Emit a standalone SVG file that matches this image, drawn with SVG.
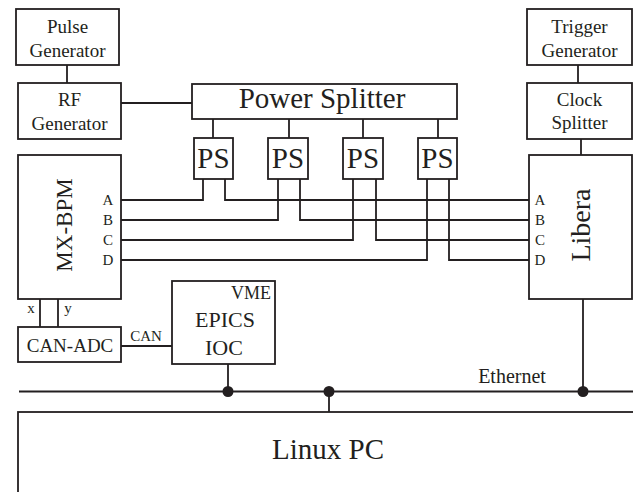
<svg xmlns="http://www.w3.org/2000/svg" width="633" height="492" viewBox="0 0 633 492">
<style>
.box{fill:#fff;stroke:#231f20;stroke-width:1.8}
.ln{fill:none;stroke:#231f20;stroke-width:1.8}
text{font-family:"Liberation Serif","Times New Roman",serif;fill:#231f20}
.m{text-anchor:middle}
.dot{fill:#231f20}
</style>
<rect width="633" height="492" fill="#fff"/>
<g id="connectors">
<line class="ln" x1="67" y1="65" x2="67" y2="83"/>
<line class="ln" x1="121" y1="103" x2="192" y2="103"/>
<line class="ln" x1="578" y1="65" x2="578" y2="83"/>
<line class="ln" x1="581" y1="139" x2="581" y2="155"/>
<line class="ln" x1="213" y1="119" x2="213" y2="138"/>
<line class="ln" x1="289" y1="119" x2="289" y2="138"/>
<line class="ln" x1="363" y1="119" x2="363" y2="138"/>
<line class="ln" x1="438" y1="119" x2="438" y2="138"/>
<polyline class="ln" points="121,200 203,200 203,179"/>
<polyline class="ln" points="225,179 225,200 529,200"/>
<polyline class="ln" points="121,220 278,220 278,179"/>
<polyline class="ln" points="300,179 300,220 529,220"/>
<polyline class="ln" points="121,240 353,240 353,179"/>
<polyline class="ln" points="376,179 376,240 529,240"/>
<polyline class="ln" points="121,260 427,260 427,179"/>
<polyline class="ln" points="449,179 449,260 529,260"/>
<line class="ln" x1="40" y1="299" x2="40" y2="327"/>
<line class="ln" x1="58" y1="299" x2="58" y2="327"/>
<line class="ln" x1="121" y1="346" x2="172" y2="346"/>
<line class="ln" x1="19" y1="391.5" x2="633" y2="391.5"/>
<line class="ln" x1="228" y1="364" x2="228" y2="391.5"/>
<line class="ln" x1="583" y1="299" x2="583" y2="391.5"/>
<line class="ln" x1="329" y1="391.5" x2="329" y2="412"/>
<circle class="dot" cx="228" cy="391.5" r="5.5"/>
<circle class="dot" cx="329" cy="391.5" r="5.5"/>
<circle class="dot" cx="583" cy="391.5" r="5.5"/>
<text x="31" y="313" class="m" font-size="15">x</text>
<text x="68" y="313" class="m" font-size="15">y</text>
<text x="146" y="341" class="m" font-size="15">CAN</text>
<text x="512" y="383" class="m" font-size="20">Ethernet</text>
</g>
<g id="pulse-generator">
<rect class="box" x="16" y="9" width="103" height="56"/>
<text x="67.5" y="33" class="m" font-size="19">Pulse</text>
<text x="67.5" y="57" class="m" font-size="19">Generator</text>
</g>
<g id="rf-generator">
<rect class="box" x="18" y="83" width="103" height="56"/>
<text x="69.5" y="106" class="m" font-size="19">RF</text>
<text x="69.5" y="130" class="m" font-size="19">Generator</text>
</g>
<g id="power-splitter">
<rect class="box" x="192" y="84" width="265" height="35"/>
<text x="322" y="108" class="m" font-size="29">Power Splitter</text>
</g>
<g id="ps1">
<rect class="box" x="194" y="138" width="39" height="41"/>
<text x="213.5" y="168" class="m" font-size="29">PS</text>
</g>
<g id="ps2">
<rect class="box" x="268" y="138" width="40" height="41"/>
<text x="288" y="168" class="m" font-size="29">PS</text>
</g>
<g id="ps3">
<rect class="box" x="343" y="138" width="40" height="41"/>
<text x="363" y="168" class="m" font-size="29">PS</text>
</g>
<g id="ps4">
<rect class="box" x="418" y="138" width="39" height="41"/>
<text x="437.5" y="168" class="m" font-size="29">PS</text>
</g>
<g id="trigger-generator">
<rect class="box" x="527" y="9" width="105" height="56"/>
<text x="579.5" y="33" class="m" font-size="19">Trigger</text>
<text x="579.5" y="57" class="m" font-size="19">Generator</text>
</g>
<g id="clock-splitter">
<rect class="box" x="527" y="83" width="105" height="56"/>
<text x="579.5" y="106" class="m" font-size="19">Clock</text>
<text x="579.5" y="129" class="m" font-size="19">Splitter</text>
</g>
<g id="mx-bpm">
<rect class="box" x="18" y="155" width="103" height="144"/>
<text transform="translate(72,225) rotate(-90)" class="m" font-size="23">MX-BPM</text>
<text x="108" y="205" class="m" font-size="15">A</text>
<text x="108" y="225" class="m" font-size="15">B</text>
<text x="108" y="245" class="m" font-size="15">C</text>
<text x="108" y="265" class="m" font-size="15">D</text>
</g>
<g id="libera">
<rect class="box" x="529" y="155" width="103" height="144"/>
<text transform="translate(590,225) rotate(-90)" class="m" font-size="28">Libera</text>
<text x="540" y="205" class="m" font-size="15">A</text>
<text x="540" y="225" class="m" font-size="15">B</text>
<text x="540" y="245" class="m" font-size="15">C</text>
<text x="540" y="265" class="m" font-size="15">D</text>
</g>
<g id="can-adc">
<rect class="box" x="18" y="327" width="103" height="35"/>
<text x="70" y="352" class="m" font-size="19">CAN-ADC</text>
</g>
<g id="epics-ioc">
<rect class="box" x="172" y="281" width="103" height="83"/>
<text x="271" y="299" text-anchor="end" font-size="18">VME</text>
<text x="225" y="327" class="m" font-size="22">EPICS</text>
<text x="224" y="355" class="m" font-size="22">IOC</text>
</g>
<g id="linux-pc">
<rect class="box" x="18" y="412" width="630" height="100"/>
<text x="328" y="459" class="m" font-size="29">Linux PC</text>
</g>
</svg>
